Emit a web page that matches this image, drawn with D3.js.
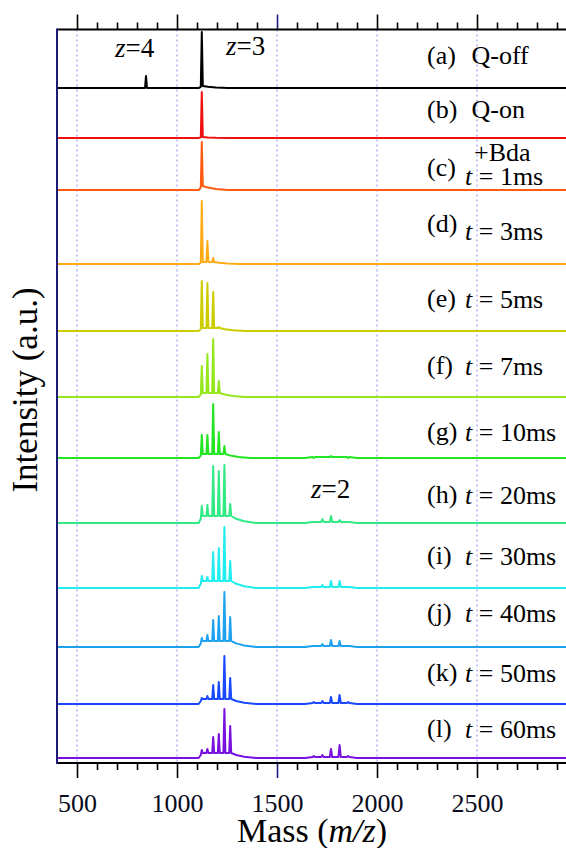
<!DOCTYPE html>
<html lang="en">
<head>
<meta charset="utf-8">
<title>Mass spectra vs. reaction time</title>
<style>
  body { margin: 0; background: #fff; }
  svg, text { font-family: "Liberation Serif", "Times New Roman", serif; }
</style>
</head>
<body>
<script src="https://cdn.jsdelivr.net/npm/d3@7"></script>
<script>
// panel tags and conditions, top to bottom
var tags = ["(a)", "(b)", "(c)", "(d)", "(e)", "(f)", "(g)", "(h)", "(i)", "(j)", "(k)", "(l)"];
var modes = ["Q-off", "Q-on"];
var times = [null, null, 1, 3, 5, 7, 10, 20, 30, 40, 50, 60];   // ms

// vertical offset of each trace (intensity units)
var offsets = [675, 625, 573, 499, 432, 366, 305, 240, 175, 116, 59, 5];

// z=4 peak
var z4Mz = 845;
var z4Height = [12, 0, 0, 0, 0, 0, 0, 0, 0, 0, 0, 0];

// z=3 peak and its +Bda adducts
var z3Mz = [1124, 1152, 1181, 1209, 1237, 1266];
var z3Heights = [
  [56, 0, 0, 0, 0, 0],
  [46, 0, 0, 0, 0, 0],
  [48, 0, 0, 0, 0, 0],
  [63, 23, 6, 0, 0, 0],
  [50, 48, 39, 4, 0, 0],
  [31, 43, 58, 16, 0, 0],
  [23, 23, 54, 26, 12, 0],
  [17, 18, 57, 52, 58, 19],
  [12, 11, 36, 40, 61, 27],
  [9, 12, 27, 31, 55, 30],
  [6, 8, 19, 22, 48, 26],
  [8, 9, 21, 24, 49, 32]
];
// level between / after the z=3 peaks
var humpLevel = [2, 1, 4, 2, 3, 4, 4, 7, 7, 6, 5, 5];

// z=2 peak and its adducts
var z2Mz = [1684, 1727, 1770, 1813, 1856];
var z2Heights = [
  [0, 0, 0, 0, 0],
  [0, 0, 0, 0, 0],
  [0, 0, 0, 0, 0],
  [0, 0, 0, 0, 0],
  [0, 0, 0, 0, 0],
  [0, 0, 0, 0, 0],
  [0, 1, 2, 1, 0],
  [1, 4, 7, 3, 1],
  [1, 3, 7, 7, 1],
  [1, 3, 7, 6, 1],
  [2, 3, 7, 9, 2],
  [2, 3, 9, 13, 2]
];

var majorTicks = [500, 1000, 1500, 2000, 2500];
var minorTicks = d3.range(500, 3000, 100).filter(function(d) { return d % 500 !== 0; });

var colors = ["#000000", "#f01010", "#ff5a12", "#ffab18", "#cccc00", "#96e61e",
              "#22e622", "#30ea84", "#20eeee", "#1ea2f0", "#1a48ff", "#7810e0"];

// layout
var w = 566, h = 848;
var pLeft = 57, pRight = 567, pTop = 29.5, pBottom = 763;
var serif = "'Liberation Serif', 'Times New Roman', serif";

var svg = d3.select("body").append("svg")
  .attr("width", w)
  .attr("height", h)
  .attr("font-family", serif);

var x = d3.scaleLinear().domain([400, 2950]).range([pLeft, pRight]);
var y = d3.scaleLinear().domain([0, 733.5]).range([pBottom, pTop]);

svg.append("clipPath").attr("id", "plot")
  .append("rect")
  .attr("x", pLeft).attr("y", pTop)
  .attr("width", pRight - pLeft).attr("height", pBottom - pTop);

// dotted grid
svg.selectAll("line.grid")
  .data(majorTicks)
  .enter()
  .append("line")
  .attr("class", "grid")
  .attr("x1", function(d) { return x(d); })
  .attr("x2", function(d) { return x(d); })
  .attr("y1", pTop)
  .attr("y2", pBottom)
  .attr("stroke", "#8c8cf2")
  .attr("stroke-width", 1)
  .attr("stroke-dasharray", "2,3");

// build a stick-like trace from the peak lists
function spectrum(i) {
  var pts = [[400, 0]];
  if (z4Height[i] > 0) {
    pts.push([z4Mz - 5, 0], [z4Mz, z4Height[i]], [z4Mz + 5, 0]);
  }
  var f = humpLevel[i];
  var hs = z3Heights[i];
  var last = 0;
  hs.forEach(function(v, j) { if (v > 0) last = j; });
  pts.push([z3Mz[0] - 16, 0]);
  for (var j = 0; j <= last; j++) {
    pts.push([z3Mz[j] - 5, j === 0 ? f * 0.6 : f], [z3Mz[j], hs[j]], [z3Mz[j] + 5, f]);
  }
  var end = z3Mz[last];
  pts.push([end + 30, f * 0.6], [end + 70, f * 0.25], [end + 130, 0]);
  var z2 = z2Heights[i];
  if (d3.max(z2) > 0) {
    pts.push([1640, 0]);
    z2Mz.forEach(function(m, j) {
      pts.push([m - 6, 1], [m, z2[j]], [m + 6, 1]);
    });
    pts.push([1900, 0]);
  }
  pts.push([2950, 0]);
  return pts;
}

var traces = svg.append("g").attr("clip-path", "url(#plot)");
traces.selectAll("path")
  .data(offsets)
  .enter()
  .append("path")
  .attr("d", function(off, i) {
    var line = d3.line()
      .x(function(d) { return x(d[0]); })
      .y(function(d) { return y(off + d[1]); });
    return line(spectrum(i));
  })
  .attr("fill", "none")
  .attr("stroke", function(d, i) { return colors[i]; })
  .attr("stroke-width", 2)
  .attr("stroke-linejoin", "round");

// axes
function styleTicks(g) {
  g.select(".domain").remove();
  g.selectAll(".tick line").attr("stroke-width", 1.6)
    .attr("stroke", function(d) { return d === 1500 ? "#1c1c80" : "#000"; });
}
function noText(g) { g.selectAll(".tick text").remove(); }

svg.append("g")
  .attr("transform", "translate(0," + pBottom + ")")
  .call(d3.axisBottom(x).tickValues(minorTicks).tickSize(7))
  .call(styleTicks).call(noText);
var xb = svg.append("g")
  .attr("transform", "translate(0," + pBottom + ")")
  .call(d3.axisBottom(x).tickValues(majorTicks).tickSize(15).tickFormat(d3.format("d")))
  .call(styleTicks);
xb.selectAll(".tick text")
  .attr("y", 49)
  .attr("dy", 0)
  .attr("fill", "#0a0a20")
  .attr("font-family", serif)
  .attr("font-size", 26);

svg.append("g")
  .attr("transform", "translate(0," + pTop + ")")
  .call(d3.axisTop(x).tickValues(minorTicks).tickSize(7))
  .call(styleTicks).call(noText);
svg.append("g")
  .attr("transform", "translate(0," + pTop + ")")
  .call(d3.axisTop(x).tickValues(majorTicks).tickSize(15))
  .call(styleTicks).call(noText);

// frame
svg.append("line")
  .attr("x1", pLeft).attr("x2", pRight).attr("y1", pTop).attr("y2", pTop)
  .attr("stroke", "#000").attr("stroke-width", 2);
svg.append("line")
  .attr("x1", pLeft).attr("x2", pRight).attr("y1", pBottom).attr("y2", pBottom)
  .attr("stroke", "#000").attr("stroke-width", 2);
svg.append("line")
  .attr("x1", pLeft).attr("x2", pLeft).attr("y1", pTop - 1).attr("y2", pBottom + 1)
  .attr("stroke", "#1c1c78").attr("stroke-width", 2);

// axis titles
var xt = svg.append("text")
  .attr("x", 312)
  .attr("y", 842)
  .attr("text-anchor", "middle")
  .attr("font-size", 34);
xt.append("tspan").text("Mass (");
xt.append("tspan").attr("font-style", "italic").text("m/z");
xt.append("tspan").text(")");

svg.append("text")
  .attr("transform", "translate(37,390) rotate(-90)")
  .attr("text-anchor", "middle")
  .attr("font-size", 35)
  .text("Intensity (a.u.)");

// panel labels
var tagY = [64, 118, 176, 232, 307, 374, 440, 503, 564, 621, 681, 737];
var descY = [64, 118, 185, 240, 308, 375, 441, 504, 565, 622, 682, 738];

svg.selectAll("text.tag")
  .data(tags)
  .enter()
  .append("text")
  .attr("class", "tag")
  .attr("x", 427)
  .attr("y", function(d, i) { return tagY[i]; })
  .attr("font-size", 26)
  .text(function(d) { return d; });

tags.forEach(function(t, i) {
  var txt = svg.append("text")
    .attr("y", descY[i])
    .attr("font-size", 26);
  if (times[i] === null) {
    txt.attr("x", 471.5).text(modes[i]);
  } else {
    txt.attr("x", 465);
    txt.append("tspan").attr("font-style", "italic").text("t");
    txt.append("tspan").text(" = " + times[i] + "ms");
  }
});

svg.append("text")
  .attr("x", 474)
  .attr("y", 161)
  .attr("font-size", 26)
  .text("+Bda");

// charge-state labels
function zLabel(xp, yp, z) {
  var t = svg.append("text").attr("x", xp).attr("y", yp).attr("font-size", 27);
  t.append("tspan").attr("font-style", "italic").text("z");
  t.append("tspan").text("=" + z);
}
zLabel(115, 57, 4);
zLabel(226, 55, 3);
zLabel(311, 498, 2);
</script>
</body>
</html>
